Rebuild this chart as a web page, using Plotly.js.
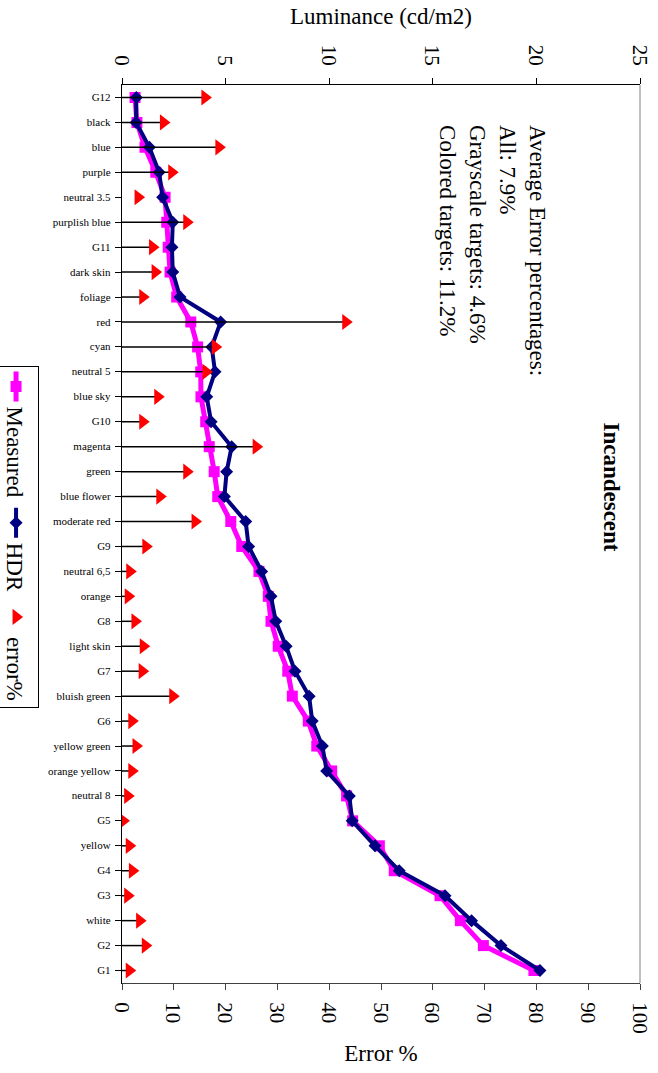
<!DOCTYPE html>
<html>
<head>
<meta charset="utf-8">
<script src="https://cdn.plot.ly/plotly-3.0.1.min.js"></script>
<style>
  html, body { margin: 0; padding: 0; background: #fff; overflow: hidden; }
  /* the chart is laid out landscape and turned a quarter turn clockwise */
  #frame {
    position: absolute; left: 0; top: 0;
    width: 1073px; height: 658px;
    transform-origin: 0 0;
    transform: translate(658px, 0) rotate(90deg);
  }
</style>
</head>
<body>
<div id="frame"></div>
<script>
// Macbeth / grayscale targets, ordered by measured luminance
const categories = ['G12', 'black', 'blue', 'purple', 'neutral 3.5', 'purplish blue', 'G11', 'dark skin',
  'foliage', 'red', 'cyan', 'neutral 5', 'blue sky', 'G10', 'magenta', 'green', 'blue flower',
  'moderate red', 'G9', 'neutral 6,5', 'orange', 'G8', 'light skin', 'G7', 'bluish green', 'G6',
  'yellow green', 'orange yellow', 'neutral 8', 'G5', 'yellow', 'G4', 'G3', 'white', 'G2', 'G1'];

// luminance, cd/m2
const measured = [0.63, 0.72, 1.11, 1.63, 2.08, 2.16, 2.23, 2.32, 2.64, 3.32, 3.65, 3.80, 3.81, 4.04,
  4.21, 4.45, 4.62, 5.25, 5.78, 6.61, 7.06, 7.19, 7.54, 8.00, 8.22, 8.99, 9.40, 10.12, 10.84, 11.13,
  12.42, 13.14, 15.35, 16.33, 17.44, 19.88];
const hdr = [0.69, 0.68, 1.32, 1.79, 1.96, 2.45, 2.41, 2.45, 2.80, 4.76, 4.33, 4.49, 4.09, 4.30,
  5.29, 5.05, 4.94, 5.97, 6.11, 6.74, 7.19, 7.42, 7.92, 8.35, 9.03, 9.18, 9.67, 9.88, 10.97, 11.11,
  12.21, 13.38, 15.59, 16.87, 18.29, 20.17];

// error, percent
const errorPct = [16.0, 8.0, 18.7, 9.6, 3.1, 12.5, 5.9, 6.4, 4.0, 43.2, 18.0, 16.2, 6.9, 4.0, 25.9,
  12.5, 7.3, 14.1, 4.6, 1.5, 1.2, 2.5, 4.1, 3.9, 9.8, 1.9, 2.7, 1.9, 1.1, 0.2, 1.4, 2.0, 1.1, 3.4,
  4.5, 1.4];
// drop line length below each error marker (none under neutral 3.5)
const dropLen = [16.0, 8.0, 18.7, 9.6, 0, 12.5, 5.9, 6.4, 4.0, 43.2, 18.0, 16.2, 6.9, 4.0, 25.9,
  12.5, 7.3, 14.1, 4.6, 1.5, 1.2, 2.5, 4.1, 3.9, 9.8, 1.9, 2.7, 1.9, 1.1, 0.2, 1.4, 2.0, 1.1, 3.4,
  4.5, 1.4];

const lumTicks = [0, 5, 10, 15, 20, 25];
const errTicks = [0, 10, 20, 30, 40, 50, 60, 70, 80, 90, 100];

const FONT = 'Liberation Serif';

const traces = [
  {
    name: 'Measured', x: categories, y: measured, yaxis: 'y', type: 'scatter', mode: 'lines+markers',
    line: { color: '#FF00FF', width: 5 },
    marker: { symbol: 'square', size: 11, color: '#FF00FF' }
  },
  {
    name: 'HDR', x: categories, y: hdr, yaxis: 'y', type: 'scatter', mode: 'lines+markers',
    line: { color: '#000080', width: 4 },
    marker: { symbol: 'diamond', size: 10, color: '#000080' }
  },
  {
    name: 'error%', x: categories, y: errorPct, yaxis: 'y2', type: 'scatter', mode: 'markers',
    marker: { symbol: 'triangle-up', size: 14, color: '#FF0000' },
    error_y: {
      type: 'data', symmetric: false, array: errorPct.map(() => 0), arrayminus: dropLen,
      color: '#000000', thickness: 1.5, width: 0
    }
  }
];

const layout = {
  width: 1073, height: 658,
  autosize: false,
  margin: { l: 85, r: 90, t: 18, b: 122, pad: 0 },
  paper_bgcolor: '#ffffff', plot_bgcolor: '#ffffff',
  font: { family: FONT, color: '#000000' },
  showlegend: true,
  title: {
    text: 'Incandescent',
    font: { family: FONT, size: 23, weight: 700, color: '#000000' },
    xref: 'container', x: 487 / 1073, xanchor: 'center',
    yref: 'container', y: 1 - 46 / 658, yanchor: 'middle'
  },
  xaxis: {
    type: 'category', range: [-0.5, categories.length - 0.5],
    showline: true, linecolor: '#000000', linewidth: 1,
    ticks: 'outside', ticklen: 6, tickcolor: '#000000',
    tickangle: -90, ticklabelstandoff: 0,
    tickfont: { family: FONT, size: 11, color: '#000000' },
    showgrid: false, zeroline: false, fixedrange: true
  },
  yaxis: {
    range: [0, 25], tickmode: 'array', tickvals: lumTicks, ticktext: lumTicks.map(String),
    showline: true, linecolor: '#000000', linewidth: 1,
    ticks: 'outside', ticklen: 6, tickcolor: '#000000', ticklabelstandoff: 8,
    tickfont: { family: FONT, size: 21, color: '#000000' },
    title: { text: 'Luminance (cd/m2)', font: { family: FONT, size: 23, color: '#000000' }, standoff: 13 },
    showgrid: false, zeroline: false, fixedrange: true
  },
  yaxis2: {
    overlaying: 'y', side: 'right', anchor: 'x',
    range: [0, 100], tickmode: 'array', tickvals: errTicks, ticktext: errTicks.map(String),
    showline: true, linecolor: '#404040', linewidth: 1,
    ticks: 'outside', ticklen: 6, tickcolor: '#404040', ticklabelstandoff: 8,
    tickfont: { family: FONT, size: 21, color: '#000000' },
    title: { text: 'Error %', font: { family: FONT, size: 23, color: '#000000' }, standoff: 12 },
    showgrid: false, zeroline: false, fixedrange: true
  },
  // inner halves of the crossing tick marks
  yaxis3: {
    overlaying: 'y', side: 'left', anchor: 'x',
    range: [0, 25], tickmode: 'array', tickvals: lumTicks,
    ticks: 'inside', ticklen: 6, tickcolor: '#000000', showticklabels: false,
    showline: false, showgrid: false, zeroline: false, fixedrange: true
  },
  yaxis4: {
    overlaying: 'y', side: 'right', anchor: 'x',
    range: [0, 100], tickmode: 'array', tickvals: errTicks,
    ticks: 'inside', ticklen: 6, tickcolor: '#404040', showticklabels: false,
    showline: false, showgrid: false, zeroline: false, fixedrange: true
  },
  shapes: [
    { type: 'line', xref: 'paper', yref: 'paper', x0: 0, x1: 1, y0: 1, y1: 1,
      line: { color: '#808080', width: 1 } }
  ],
  legend: {
    orientation: 'h',
    xref: 'container', x: 0.5, xanchor: 'center',
    yref: 'container', y: 1 - 642 / 658, yanchor: 'middle',
    bordercolor: '#000000', borderwidth: 1, bgcolor: '#ffffff',
    font: { family: FONT, size: 23, color: '#000000' },
    traceorder: 'normal', itemwidth: 30
  },
  annotations: [
    {
      xref: 'paper', yref: 'paper',
      x: (123 - 85) / (983 - 85), xanchor: 'left',
      y: 1 - (165 - 18) / (536 - 18), yanchor: 'middle',
      align: 'left', showarrow: false,
      text: 'Average Error percentages:<br>All: 7.9%<br>Grayscale targets: 4.6%<br>Colored targets: 11.2%',
      font: { family: FONT, size: 23, color: '#000000' }
    }
  ]
};

Plotly.newPlot('frame', traces, layout, { staticPlot: true, displayModeBar: false });
</script>
</body>
</html>
